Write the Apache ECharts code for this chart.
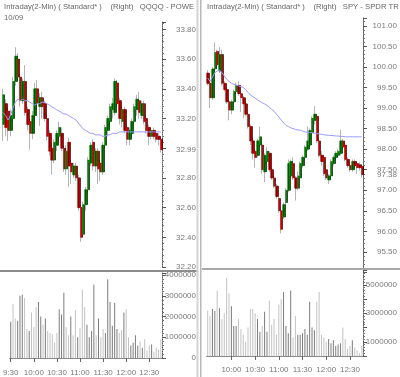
<!DOCTYPE html>
<html><head><meta charset="utf-8">
<script src="https://cdn.jsdelivr.net/npm/echarts@6/dist/echarts.min.js"></script>
<style>html,body{margin:0;padding:0;background:#fff;overflow:hidden}#c{width:400px;height:377px}</style>
</head><body><div id="c"></div>
<script>
// ---------- data ----------
const times = ['9:30','9:33','9:36','9:39','9:42','9:45','9:48','9:51','9:54','9:57',
'10:00','10:03','10:06','10:09','10:12','10:15','10:18','10:21','10:24','10:27',
'10:30','10:33','10:36','10:39','10:42','10:45','10:48','10:51','10:54','10:57',
'11:00','11:03','11:06','11:09','11:12','11:15','11:18','11:21','11:24','11:27',
'11:30','11:33','11:36','11:39','11:42','11:45','11:48','11:51','11:54','11:57',
'12:00','12:03','12:06','12:09','12:12','12:15','12:18','12:21','12:24','12:27',
'12:30','12:33','12:36','12:39','12:42','12:45'];

const qqqqOpen  = [33.16,33.30,33.25,33.12,33.20,33.45,33.60,33.48,33.32,33.45,33.26,33.18,33.10,33.22,33.40,33.28,33.34,33.30,33.20,33.10,33.00,32.92,33.02,33.08,33.10,33.00,32.86,33.04,32.90,32.82,32.88,32.80,32.60,32.42,32.62,32.72,32.90,33.04,32.88,32.98,32.90,32.84,33.02,33.12,33.18,33.26,33.24,33.44,33.32,33.18,33.26,33.14,33.06,33.10,33.18,33.26,33.32,33.22,33.30,33.20,33.14,33.08,33.12,33.10,33.08,33.06];
const qqqqClose = [33.36,33.14,33.12,33.22,33.45,33.62,33.48,33.32,33.45,33.24,33.16,33.10,33.22,33.40,33.30,33.34,33.28,33.20,33.08,32.98,32.92,33.04,33.10,33.14,33.00,32.86,32.98,32.88,32.84,32.88,32.80,32.60,32.40,32.62,32.72,32.92,33.02,32.88,32.98,32.86,32.84,33.02,33.14,33.20,33.28,33.30,33.45,33.30,33.20,33.26,33.12,33.06,33.12,33.18,33.28,33.33,33.24,33.30,33.18,33.12,33.08,33.12,33.08,33.06,33.06,32.99];
const qqqqLow   = [33.05,33.08,33.05,33.08,33.18,33.42,33.45,33.28,33.30,33.22,33.12,32.99,33.06,33.18,33.26,33.15,33.20,33.18,33.05,32.95,32.82,32.90,32.98,33.05,32.98,32.84,32.82,32.74,32.76,32.80,32.78,32.58,32.37,32.40,32.58,32.70,32.88,32.85,32.84,32.76,32.78,32.82,33.00,33.08,33.14,33.20,33.22,33.28,33.16,33.14,33.10,33.02,33.02,33.08,33.16,33.22,33.20,33.20,33.16,33.10,33.02,33.06,33.06,33.04,33.02,32.97];
const qqqqHigh  = [33.40,33.33,33.28,33.26,33.48,33.68,33.64,33.50,33.47,33.56,33.28,33.20,33.25,33.44,33.46,33.37,33.38,33.32,33.22,33.12,33.03,33.06,33.12,33.18,33.14,33.02,33.02,33.07,32.92,32.90,32.90,32.82,32.62,32.64,32.74,32.94,33.04,33.06,33.00,33.00,32.92,33.04,33.16,33.22,33.30,33.34,33.47,33.46,33.34,33.28,33.28,33.16,33.14,33.20,33.30,33.36,33.38,33.32,33.32,33.22,33.16,33.14,33.14,33.12,33.10,33.08];
const qqqqAvg   = [33.24,33.22,33.19,33.22,33.27,33.31,33.33,33.32,33.33,33.32,33.32,33.31,33.30,33.29,33.30,33.30,33.31,33.31,33.30,33.29,33.28,33.27,33.26,33.25,33.24,33.23,33.23,33.22,33.21,33.20,33.19,33.17,33.15,33.13,33.12,33.11,33.10,33.10,33.09,33.09,33.09,33.08,33.08,33.09,33.09,33.10,33.10,33.10,33.11,33.11,33.11,33.11,33.11,33.11,33.11,33.11,33.11,33.11,33.11,33.11,33.11,33.11,33.11,33.11,33.11,33.11];
const qqqqVolume = [1750000,2600000,1900000,1800000,3000000,3050000,2900000,1400000,1300000,2200000,1500000,2450000,2700000,2000000,1600000,1900000,1300000,1200000,1150000,750000,1200000,2350000,2100000,3150000,1500000,1100000,2000000,1100000,2300000,1000000,1450000,3300000,2450000,1600000,1000000,1300000,3550000,1100000,1900000,1000000,1400000,1200000,3800000,2700000,1550000,2650000,1400000,1200000,1350000,2200000,2350000,1000000,600000,750000,1100000,600000,800000,500000,900000,350000,600000,650000,300000,500000,400000,900000];

const spyOpen  = [99.85,99.60,99.25,99.95,100.38,99.90,100.30,99.60,99.45,99.15,98.95,99.15,99.40,99.55,99.35,99.25,99.10,98.85,98.55,98.20,97.95,97.85,98.10,98.10,97.45,97.70,97.90,97.50,97.30,97.10,96.80,96.50,96.35,96.70,97.00,97.35,97.65,97.30,97.05,97.30,97.60,97.80,98.00,98.10,98.40,98.70,98.80,98.20,97.85,97.80,97.50,97.25,97.35,97.65,97.80,97.85,97.90,98.20,98.10,97.75,97.60,97.50,97.70,97.65,97.62,97.58];
const spyClose = [99.60,99.25,99.95,100.35,100.05,100.30,99.60,99.45,99.15,98.95,99.15,99.40,99.55,99.35,99.25,99.10,98.85,98.55,98.20,97.90,97.80,98.20,98.30,97.50,97.85,97.95,97.50,97.30,97.10,96.85,96.50,96.05,96.65,97.00,97.65,97.70,97.30,97.05,97.35,97.65,97.80,98.05,98.20,98.45,98.75,98.85,98.20,97.85,97.70,97.40,97.30,97.35,97.70,97.80,97.90,97.95,98.20,98.05,97.75,97.60,97.50,97.70,97.60,97.55,97.55,97.38];
const spyLow   = [99.55,99.00,99.20,99.90,99.98,99.85,99.55,99.40,99.10,98.70,98.85,99.10,99.35,99.30,98.90,98.75,98.80,98.50,98.10,97.75,97.55,97.80,98.05,97.40,97.20,97.65,97.45,97.25,97.05,96.80,96.45,95.95,96.30,96.65,96.95,97.30,97.25,96.75,97.00,97.25,97.55,97.75,97.95,98.05,98.35,98.60,98.15,97.80,97.60,97.35,97.25,97.15,97.30,97.60,97.75,97.80,97.85,98.00,97.70,97.55,97.45,97.45,97.55,97.40,97.48,97.30];
const spyHigh  = [99.92,99.65,100.00,100.60,100.42,100.48,100.42,99.65,99.50,99.20,99.20,99.45,99.62,99.65,99.40,99.30,99.15,98.90,98.60,98.30,98.00,98.25,98.55,98.15,97.90,98.05,97.95,97.55,97.35,97.15,96.85,96.55,96.70,97.05,97.75,97.75,97.80,97.35,97.45,97.70,97.85,98.10,98.55,98.50,98.80,99.05,98.85,98.25,97.95,97.85,97.55,97.40,97.75,97.85,97.95,98.00,98.47,98.25,98.15,97.80,97.65,97.75,97.75,97.70,97.68,97.62];
const spyAvg   = [99.73,99.65,99.75,99.86,99.90,99.92,99.86,99.78,99.70,99.65,99.60,99.58,99.56,99.54,99.52,99.50,99.45,99.38,99.32,99.28,99.24,99.20,99.16,99.13,99.10,99.06,99.02,98.97,98.92,98.85,98.78,98.71,98.64,98.58,98.55,98.52,98.50,98.48,98.47,98.46,98.44,98.42,98.41,98.40,98.40,98.39,98.38,98.37,98.36,98.35,98.34,98.34,98.33,98.33,98.32,98.32,98.31,98.31,98.30,98.30,98.30,98.30,98.30,98.30,98.30,98.30];
const spyVolume = [3200000,2800000,3300000,3150000,4600000,3350000,2600000,3000000,5500000,4400000,3500000,2100000,2100000,2600000,1900000,1500000,1000000,2000000,3300000,3300000,3000000,2600000,1700000,2100000,3100000,1700000,3900000,2200000,2600000,1500000,3600000,4000000,4500000,2100000,1600000,4600000,1300000,2800000,1500000,1500000,1600000,1900000,1500000,3800000,2000000,1800000,3800000,4500000,1500000,1300000,1000000,1200000,900000,1100000,700000,800000,900000,2000000,1200000,500000,700000,1100000,600000,400000,200000,700000];

const qqqqPriceTicks = [32.2,32.4,32.6,32.8,33.0,33.2,33.4,33.6,33.8];
const spyPriceTicks  = [95.5,96.0,96.5,97.0,97.5,98.0,98.5,99.0,99.5,100.0,100.5,101.0];
const qqqqVolumeTicks = [0,1000000,2000000,3000000,4000000];
const spyVolumeTicks  = [1000000,3000000,5000000];

const leftTitle  = 'Intraday(2-Min) ( Standard* )    (Right)   QQQQ - POWER';
const leftDate   = '10/09';
const rightTitle = 'Intraday(2-Min) ( Standard* )    (Right)   SPY - SPDR TR';

// ---------- helpers ----------
const FONT = '"Liberation Sans", Arial, sans-serif';
const LABEL = '#7a7a7a';
const AXIS = '#555';

function ohlc(o,c,l,h){ return o.map((v,i)=>[v,c[i],l[i],h[i]]); }
function bodies(o,c){ return o.map((v,i)=>[v,c[i],Math.min(v,c[i]),Math.max(v,c[i])]); }
function vols(v,o,c){ return v.map((x,i)=>({value:x,itemStyle:{color: c[i]>=o[i] ? '#7c7c7c' : '#c3c3c3'}})); }
function priceLabels(ticks, last, interval){
  const keep = ticks.filter(t => Math.abs(t-last) > interval*0.15);
  keep.push(last);
  return keep;
}
function showTime(idx, val){ return /:(00|30)$/.test(val); }
function showTimeNoOpen(idx, val){ return idx>0 && /:(00|30)$/.test(val); }

function priceY(grid, min, max, interval, labels){
  return {type:'value', gridIndex:grid, position:'right', min:min, max:max, interval:interval,
    axisLine:{show:true, onZero:false, lineStyle:{color:AXIS, width:1, type:'dotted'}},
    axisTick:{show:true, length:4, lineStyle:{color:AXIS}},
    minorTick:{show:true, splitNumber:5, length:2, lineStyle:{color:'#777'}},
    splitLine:{show:false},
    axisLabel:{customValues:labels, formatter:v=>v.toFixed(2), align:'right', margin:34,
      fontSize:8, color:LABEL, fontFamily:FONT}};
}
function volY(grid, max, labels){
  return {type:'value', gridIndex:grid, position:'right', min:0, max:max, interval:1000000,
    axisLine:{show:true, onZero:false, lineStyle:{color:AXIS, width:1, type:'dotted'}},
    axisTick:{show:true, length:4, lineStyle:{color:AXIS}},
    minorTick:{show:true, splitNumber:5, length:2, lineStyle:{color:'#777'}},
    splitLine:{show:false},
    axisLabel:{customValues:labels, formatter:v=>String(Math.round(v)), align:'right', margin:34,
      fontSize:8, color:LABEL, fontFamily:FONT}};
}
function hiddenX(grid){
  return {type:'category', gridIndex:grid, data:times, show:false, boundaryGap:true};
}
function timeX(grid, fn, margin){
  return {type:'category', gridIndex:grid, data:times, boundaryGap:true,
    axisLine:{show:true, lineStyle:{color:'#8a8a8a'}},
    axisTick:{show:true, interval:fn, alignWithLabel:true, length:4, lineStyle:{color:'#666'}},
    axisLabel:{interval:fn, fontSize:8, color:LABEL, fontFamily:FONT, margin:margin, hideOverlap:false}};
}
function candles(xi, yi, o,c,l,h){
  return [
    {type:'candlestick', xAxisIndex:xi, yAxisIndex:yi, data:ohlc(o,c,l,h), barWidth:1, z:2,
      itemStyle:{color:'#b8b8b8', color0:'#b8b8b8', borderColor:'#b4b4b4', borderColor0:'#b4b4b4', borderWidth:1}},
    {type:'candlestick', xAxisIndex:xi, yAxisIndex:yi, data:bodies(o,c), barWidth:2, z:3,
      itemStyle:{color:'#00a400', color0:'#f00000', borderColor:'#00a400', borderColor0:'#f00000', borderWidth:0.5,
        shadowColor:'#000', shadowOffsetX:1, shadowOffsetY:0, shadowBlur:0}}
  ];
}
function titleStyle(extra){
  return Object.assign({fontSize:7.7, fontWeight:'normal', color:'#666', fontFamily:FONT}, extra||{});
}

const chart = echarts.init(document.getElementById('c'), null, {renderer:'canvas'});
chart.setOption({
  animation:false,
  backgroundColor:'#ffffff',
  title:[
    {text:leftTitle, left:4, top:3, padding:0, textStyle:titleStyle({width:196, overflow:'truncate', ellipsis:''})},
    {text:leftDate, left:4, top:14, padding:0, textStyle:titleStyle()},
    {text:rightTitle, left:207, top:3, padding:0, textStyle:titleStyle({width:193, overflow:'truncate', ellipsis:''})}
  ],
  grid:[
    {left:2, width:160, top:22, height:245},
    {left:2, width:160, top:273, height:85},
    {left:206.5, width:157.5, top:18, height:254.5},
    {left:206.5, width:157.5, top:270.5, height:85.5}
  ],
  xAxis:[hiddenX(0), timeX(1, showTime, 11), hiddenX(2), timeX(3, showTimeNoOpen, 10)],
  yAxis:[
    priceY(0, 32.2, 33.85, 0.2, priceLabels(qqqqPriceTicks, qqqqClose[qqqqClose.length-1], 0.2)),
    volY(1, 4100000, qqqqVolumeTicks),
    priceY(2, 95.0, 101.19, 0.5, priceLabels(spyPriceTicks, spyClose[spyClose.length-1], 0.5)),
    volY(3, 6000000, spyVolumeTicks)
  ],
  series:[
    ...candles(0,0,qqqqOpen,qqqqClose,qqqqLow,qqqqHigh),
    {type:'line', xAxisIndex:0, yAxisIndex:0, data:qqqqAvg, symbol:'none', z:4, lineStyle:{color:'#9a9aff', width:1}},
    {type:'bar', xAxisIndex:1, yAxisIndex:1, data:vols(qqqqVolume,qqqqOpen,qqqqClose), barWidth:1},
    ...candles(2,2,spyOpen,spyClose,spyLow,spyHigh),
    {type:'line', xAxisIndex:2, yAxisIndex:2, data:spyAvg, symbol:'none', z:4, lineStyle:{color:'#9a9aff', width:1}},
    {type:'bar', xAxisIndex:3, yAxisIndex:3, data:vols(spyVolume,spyOpen,spyClose), barWidth:1}
  ],
  graphic:[
    {type:'rect', shape:{x:0, y:270, width:197, height:2}, style:{fill:'#8c8c8c'}, z:10},
    {type:'rect', shape:{x:202, y:268, width:198, height:2}, style:{fill:'#a8a8a8'}, z:10},
    {type:'rect', shape:{x:196.5, y:0, width:2, height:377}, style:{fill:'#d4d4d4'}, z:10},
    {type:'rect', shape:{x:200, y:0, width:1.5, height:377}, style:{fill:'#b8b8b8'}, z:10}
  ]
});
</script>
</body></html>
